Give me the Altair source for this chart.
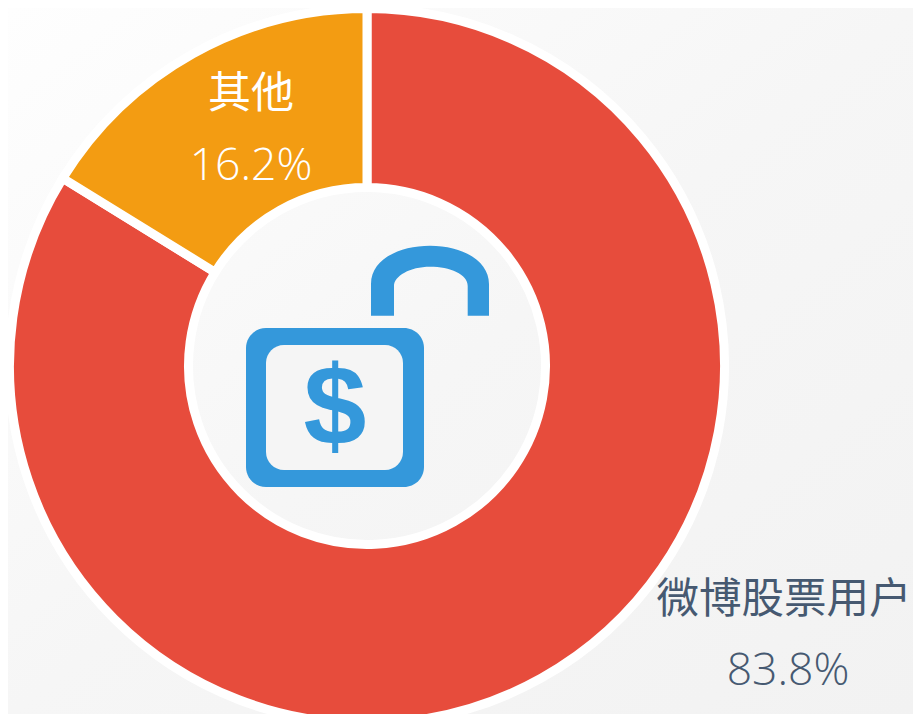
import altair as alt
import pandas as pd

categories = ["微博股票用户", "其他"]
values = [83.8, 16.2]
labels = ["83.8%", "16.2%"]
colors = ["#E74C3C", "#F39C12"]
BLUE = "#3498DB"
INK = "#465971"
FONT = "Noto Sans CJK SC"
LATIN = "Open Sans"
W, H = 905, 706
one = pd.DataFrame({"a": [1]})

bg = alt.Chart(one).mark_rect(
    color=alt.LinearGradient(
        gradient="linear", x1=0, y1=0, x2=1, y2=1,
        stops=[alt.GradientStop(offset=0, color="#fefefe"),
               alt.GradientStop(offset=0.5, color="#f6f6f6"),
               alt.GradientStop(offset=1, color="#f2f2f2")])
).encode(x=alt.value(0), x2=alt.value(W), y=alt.value(0), y2=alt.value(H))

df = pd.DataFrame({"cat": categories, "val": values, "ord": [0, 1]})
donut = alt.Chart(df).mark_arc(
    radius=357.5, radius2=178.5, stroke="white", strokeWidth=9
).encode(
    theta=alt.Theta("val:Q", stack=True, scale=alt.Scale(range=[0, 6.283185307])),
    color=alt.Color("cat:N", scale=alt.Scale(domain=categories, range=colors), legend=None),
    order=alt.Order("ord:Q"),
    x=alt.value(359), y=alt.value(358),
)

def rect(x, x2, y, y2, fill, r):
    return alt.Chart(one).mark_rect(color=fill, cornerRadius=r).encode(
        x=alt.value(x), x2=alt.value(x2), y=alt.value(y), y2=alt.value(y2))

body = rect(238, 416, 320, 479, BLUE, 20)
window = rect(258, 395, 337, 462, "#f5f5f5", 18)

SHACKLE = ("M-0.59,0.347 L-0.59,0.03 C-0.59,-0.22 -0.3,-0.353 0,-0.353 "
           "C0.33,-0.353 0.59,-0.2 0.59,0.03 L0.59,0.347 L0.377,0.347 L0.377,0.05 "
           "C0.377,-0.07 0.2,-0.143 0,-0.143 C-0.2,-0.143 -0.36,-0.05 -0.36,0.05 "
           "L-0.36,0.347 Z")
shackle = alt.Chart(one).mark_point(
    shape=SHACKLE, filled=True, size=40000, color=BLUE, opacity=1, strokeWidth=0
).encode(x=alt.value(422), y=alt.value(273))

def text(s, x, y, fill, size=43, font=FONT, **kw):
    return alt.Chart(pd.DataFrame({"t": [s]})).mark_text(
        font=font, fontSize=size, color=fill, baseline="middle", align="center", **kw
    ).encode(text="t:N", x=alt.value(x), y=alt.value(y))

dollar = text("$", 327, 403, BLUE, size=113, font="Liberation Sans", fontWeight="bold")

chart = alt.layer(
    bg, donut, body, window, shackle, dollar,
    text(categories[1], 243, 87, "white"),
    text(labels[1], 243, 159, "white", size=44.5, font=LATIN, fontWeight=300),
    text(categories[0], 776, 592, INK, size=42.5),
    text(labels[0], 780, 664, INK, size=44.5, font=LATIN, fontWeight=300),
).properties(width=W, height=H, padding=0, autosize=alt.AutoSizeParams(type="none")
).configure_view(stroke=None)

chart.save("out.html", embed_options={"renderer": "svg", "actions": False})
